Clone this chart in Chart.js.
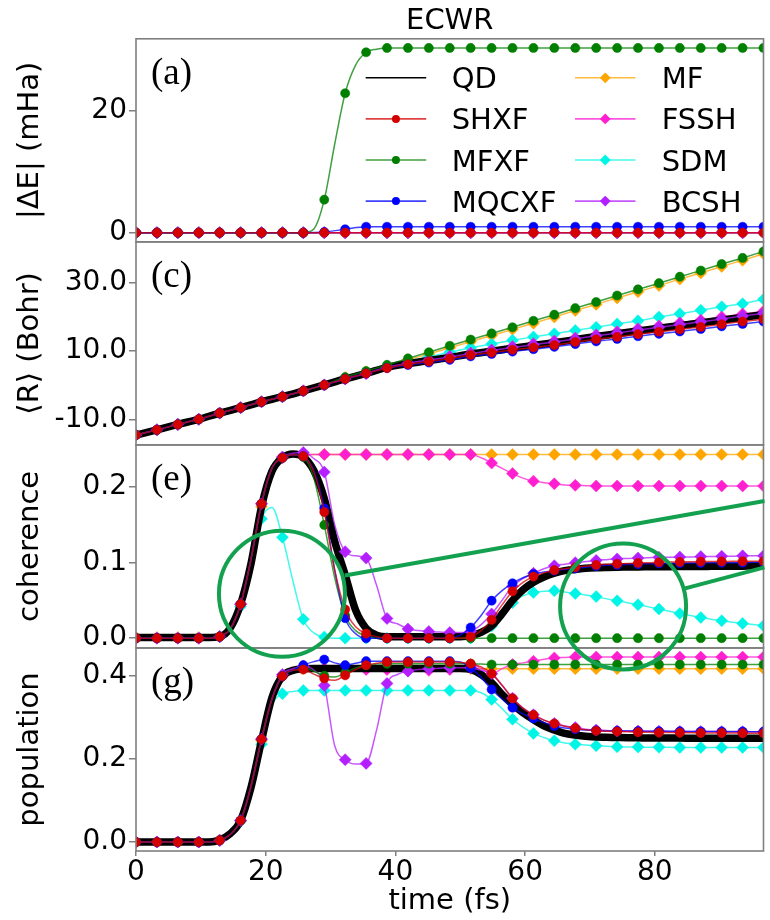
<!DOCTYPE html>
<html>
<head>
<meta charset="utf-8">
<title>ECWR</title>
<script src="https://cdn.jsdelivr.net/npm/chart.js@4.4.1/dist/chart.umd.min.js"></script>
<style>
  html, body { margin: 0; padding: 0; background: #fff; }
  canvas { display: block; }
</style>
</head>
<body>
<canvas id="chart" width="770" height="920"></canvas>
<script>
// time axis (fs): marker grid and the finer grid used for curvy panels
const tMarks = [0, 3.23, 6.45, 9.68, 12.9, 16.13, 19.35, 22.58, 25.8, 29.03, 32.25, 35.48, 38.7, 41.93, 45.15, 48.38,
  51.6, 54.83, 58.05, 61.28, 64.5, 67.73, 70.95, 74.18, 77.4, 80.63, 83.85, 87.08, 90.3, 93.53, 96.75];
const tFine = [0, 1.61, 3.23, 4.84, 6.45, 8.06, 9.68, 11.29, 12.9, 14.51, 16.13, 17.74, 19.35, 20.96, 22.58, 24.19,
  25.8, 27.41, 29.03, 30.64, 32.25, 33.86, 35.48, 37.09, 38.7, 40.31, 41.93, 43.54, 45.15, 46.76, 48.38, 49.99,
  51.6, 53.21, 54.83, 56.44, 58.05, 59.66, 61.28, 62.89, 64.5, 66.11, 67.73, 69.34, 70.95, 72.56, 74.18, 75.79,
  77.4, 79.01, 80.63, 82.24, 83.85, 85.46, 87.08, 88.69, 90.3, 91.91, 93.53, 95.14, 96.75];
const xTicks = [0, 20, 40, 60, 80];

// (a) |dE| in mHa
const dE_SHXF = [0,0,0,0,0,0,0,0,0,0, 0,0,0,0,0,0,0,0,0,0, 0,0,0,0,0,0,0,0,0,0, 0];
const dE_MFXF = [0,0,0,0,0,0,0,0,0,0, 0,0,0,0,0,0,0,0.6,5.4,14.5, 22.8,27.4,29.5,30.0,30.2,30.2,30.2,30.2,30.2,30.2,
  30.2,30.2,30.2,30.2,30.2,30.2,30.2,30.2,30.2,30.2, 30.2,30.2,30.2,30.2,30.2,30.2,30.2,30.2,30.2,30.2,
  30.2,30.2,30.2,30.2,30.2,30.2,30.2,30.2,30.2,30.2, 30.2];
const dE_MQCXF = [0,0,0,0,0,0,0,0,0,0.1, 0.56,0.97,0.97,0.97,0.97,0.97,0.97,0.97,0.97,0.97, 0.97,0.97,0.97,0.97,0.97,0.97,0.97,0.97,0.97,0.97, 0.97];
const dE_MF = [0,0,0,0,0,0,0,0,0,0, 0,0,0,0,0,0,0,0,0,0, 0,0,0,0,0,0,0,0,0,0, 0];
const dE_FSSH = [0,0,0,0,0,0,0,0,0,0, 0,0,0,0,0,0,0,0,0,0, 0,0,0,0,0,0,0,0,0,0, 0];
const dE_SDM = [0,0,0,0,0,0,0,0,0,0, 0,0,0,0,0,0,0,0,0,0, 0,0,0,0,0,0,0,0,0,0, 0];
const dE_BCSH = [0,0,0,0,0,0,0,0,0,0, 0,0,0,0,0,0,0,0,0,0, 0,0,0,0,0,0,0,0,0,0, 0];

// (c) <R> in Bohr
const R_QD = [-14.6,-13.1,-11.5,-10.0,-8.2,-6.6,-4.9,-3.4,-1.7,0.05, 1.8,3.4,5.2,6.3,7.2,8.1,9.1,9.9,10.8,11.6,
  12.4,13.3,14.2,15.0,15.85,16.6,17.4,18.2,19.0,19.8, 20.6];
const R_SHXF = [-14.6,-13.1,-11.5,-10.0,-8.2,-6.6,-4.9,-3.4,-1.7,0.05, 1.8,3.4,5.0,6.1,6.9,7.75,8.8,9.5,10.3,11.0,
  11.7,12.6,13.4,14.1,14.9,15.6,16.3,17.0,17.8,18.6, 19.3];
const R_MFXF = [-14.6,-13.1,-11.5,-10.0,-8.2,-6.6,-4.9,-3.4,-1.7,0.05, 2.3,4.1,5.9,7.8,9.6,11.5,13.3,15.1,16.9,18.8,
  20.6,22.5,24.3,26.2,28.0,29.8,31.7,33.5,35.4,37.2, 39.1];
const R_MQCXF = [-14.6,-13.1,-11.5,-10.0,-8.2,-6.6,-4.9,-3.4,-1.7,0.05, 1.8,3.4,5.0,5.9,6.6,7.4,8.4,9.1,9.8,10.5,
  11.2,12.0,12.8,13.5,14.3,15.0,15.7,16.4,17.2,17.9, 18.6];
const R_MF = [-14.6,-13.1,-11.5,-10.0,-8.2,-6.6,-4.9,-3.4,-1.7,0.05, 2.2,3.9,5.6,7.4,9.1,10.9,12.7,14.5,16.3,18.1,
  19.9,21.8,23.6,25.5,27.3,29.1,31.0,32.8,34.7,36.5, 38.4];
const R_FSSH = [-14.6,-13.1,-11.5,-10.0,-8.2,-6.6,-4.9,-3.4,-1.7,0.05, 1.8,3.4,5.3,6.5,7.4,8.4,9.4,10.3,11.3,12.1,
  12.9,13.8,14.7,15.6,16.5,17.3,18.2,19.0,19.9,20.8, 21.6];
const R_SDM = [-14.6,-13.1,-11.5,-10.0,-8.2,-6.6,-4.9,-3.4,-1.7,0.05, 1.9,3.5,5.6,7.0,8.3,9.6,10.9,12.0,13.1,14.1,
  15.0,16.0,16.9,17.9,18.8,19.9,20.9,21.9,22.9,23.8, 25.1];
const R_BCSH = [-14.6,-13.1,-11.5,-10.0,-8.2,-6.6,-4.9,-3.4,-1.7,0.05, 1.8,3.4,5.2,6.4,7.3,8.2,9.2,10.1,11.0,11.8,
  12.6,13.5,14.4,15.2,16.1,16.9,17.7,18.5,19.3,20.2, 21.0];

// (e) coherence
const coh_QD = [0.001,0.001,0.001,0.001,0.001,0.001,0.001,0.001,0.002,0.013,
  0.045,0.099,0.174,0.221,0.239,0.244,0.240,0.222,0.185,0.128,
  0.084,0.037,0.013,0.004,0.002,0.002,0.002,0.002,0.002,0.002,
  0.002,0.002,0.003,0.0075,0.016,0.032,0.050,0.064,0.074,0.081,
  0.086,0.0895,0.091,0.0925,0.0933,0.0937,0.094,0.0942,0.0944,0.0945,
  0.0946,0.0947,0.0948,0.0949,0.095,0.0951,0.0952,0.0953,0.0954,0.0955, 0.0956];
const coh_SHXF = [0,0,0,0,0,0,0,0,0.002,0.012,
  0.045,0.105,0.178,0.225,0.239,0.243,0.241,0.220,0.167,0.090,
  0.038,0.015,0.006,0.002,0,0,0,0,0,0,
  0,0,0.0018,0.010,0.0242,0.044,0.062,0.074,0.0815,0.0865,
  0.090,0.092,0.0938,0.0955,0.097,0.098,0.0985,0.099,0.0997,0.100,
  0.1005,0.101,0.101,0.1012,0.1014,0.1015,0.1016,0.1017,0.1018,0.1019, 0.102];
const coh_MFXF = [0,0,0,0,0,0,0,0,0.002,0.012,
  0.045,0.105,0.178,0.225,0.239,0.243,0.240,0.212,0.150,0.080,
  0.030,0.010,0.003,0,0,0,0,0,0,0,
  0,0,0,0,0,0,0,0,0,0,
  0,0,0,0,0,0,0,0,0,0,
  0,0,0,0,0,0,0,0,0,0, 0];
const coh_MQCXF = [0,0,0,0,0,0,0,0,0.002,0.012,
  0.045,0.105,0.178,0.225,0.239,0.243,0.241,0.222,0.172,0.090,
  0.0265,0.006,0,0,0,0,0,0,0,0,
  0,0.004,0.0141,0.030,0.0496,0.063,0.0726,0.080,0.085,0.0875,
  0.0894,0.091,0.0925,0.094,0.0955,0.0965,0.097,0.0975,0.098,0.0985,
  0.099,0.099,0.0993,0.0995,0.0997,0.0998,0.1,0.1,0.1,0.1005, 0.1005];
const coh_MF = [0.001,0.001,0.001,0.001,0.001,0.001,0.001,0.001,0.002,0.013,
  0.045,0.099,0.174,0.221,0.239,0.2434,0.2434,0.2434,0.2434,0.2434,
  0.2434,0.2434,0.2434,0.2434,0.2434,0.2434,0.2434,0.2434,0.2434,0.2434,
  0.2434,0.2434,0.2434,0.2434,0.2434,0.2434,0.2434,0.2434,0.2434,0.2434,
  0.2434,0.2434,0.2434,0.2434,0.2434,0.2434,0.2434,0.2434,0.2434,0.2434,
  0.2434,0.2434,0.2434,0.2434,0.2434,0.2434,0.2434,0.2434,0.2434,0.2434, 0.2434];
const coh_FSSH = [0,0,0,0,0,0,0,0,0.002,0.012,
  0.045,0.105,0.178,0.225,0.239,0.2434,0.2434,0.2434,0.2434,0.2434,
  0.2434,0.2434,0.2434,0.2434,0.2434,0.2434,0.2434,0.2434,0.2434,0.2434,
  0.2434,0.2434,0.2434,0.239,0.232,0.225,0.218,0.212,0.208,0.206,
  0.2045,0.203,0.2024,0.202,0.2016,0.2016,0.2016,0.2016,0.2016,0.2016,
  0.2016,0.2016,0.2016,0.2016,0.2016,0.2016,0.2016,0.2016,0.2016,0.2016, 0.2016];
const coh_SDM = [0,0,0,0,0,0,0,0,0.002,0.012,
  0.042,0.100,0.158,0.173,0.1336,0.076,0.025,0.007,0.0016,0,
  0,0,0,0,0,0,0,0,0,0,
  0,0,0,0.005,0.016,0.032,0.047,0.056,0.0605,0.062,
  0.0628,0.061,0.059,0.057,0.055,0.052,0.0495,0.047,0.0443,0.0414,
  0.0385,0.0356,0.0327,0.030,0.0274,0.025,0.023,0.021,0.0195,0.018, 0.0164];
const coh_BCSH = [0,0,0,0,0,0,0,0,0.002,0.012,
  0.045,0.105,0.178,0.225,0.240,0.245,0.246,0.238,0.220,0.150,
  0.1146,0.109,0.106,0.070,0.026,0.019,0.0121,0.010,0.0087,0.008,
  0.0074,0.0074,0.009,0.018,0.032,0.050,0.0686,0.079,0.086,0.092,
  0.096,0.098,0.100,0.1015,0.103,0.104,0.105,0.1055,0.106,0.1065,
  0.107,0.107,0.1075,0.1075,0.108,0.108,0.1085,0.1085,0.109,0.109, 0.109];

// (g) population
const pop_QD = [0,0,0,0,0,0,0,0,0.005,0.020,
  0.052,0.132,0.244,0.348,0.400,0.414,0.418,0.4185,0.4185,0.4185,
  0.4185,0.4185,0.4185,0.4185,0.4185,0.4185,0.4185,0.4185,0.4185,0.4185,
  0.4185,0.4185,0.416,0.404,0.384,0.356,0.332,0.312,0.295,0.280,
  0.270,0.262,0.258,0.255,0.253,0.2525,0.252,0.2515,0.2513,0.251,
  0.251,0.2508,0.2506,0.2505,0.2504,0.2503,0.2502,0.2501,0.25,0.25, 0.25];
const pop_SHXF = [0,0,0,0,0,0,0,0,0.004,0.018,
  0.052,0.135,0.248,0.345,0.400,0.414,0.416,0.405,0.3945,0.390,
  0.402,0.416,0.4265,0.431,0.434,0.434,0.434,0.434,0.434,0.434,
  0.434,0.433,0.430,0.422,0.406,0.378,0.3465,0.323,0.3065,0.294,
  0.2857,0.279,0.2745,0.271,0.2681,0.267,0.2665,0.266,0.2648,0.2645,
  0.264,0.264,0.2638,0.2635,0.2632,0.263,0.263,0.2628,0.2626,0.2625, 0.2624];
const pop_MFXF = [0,0,0,0,0,0,0,0,0.004,0.018,
  0.052,0.135,0.248,0.345,0.400,0.414,0.420,0.412,0.401,0.398,
  0.408,0.420,0.4265,0.429,0.430,0.430,0.430,0.430,0.430,0.430,
  0.430,0.430,0.430,0.429,0.428,0.428,0.428,0.428,0.428,0.428,
  0.428,0.428,0.428,0.428,0.428,0.428,0.428,0.428,0.428,0.428,
  0.428,0.428,0.428,0.428,0.428,0.428,0.428,0.428,0.428,0.428, 0.428];
const pop_MQCXF = [0,0,0,0,0,0,0,0,0.004,0.018,
  0.052,0.135,0.248,0.345,0.400,0.414,0.4265,0.435,0.440,0.432,
  0.4265,0.431,0.436,0.436,0.436,0.436,0.436,0.436,0.436,0.436,
  0.436,0.434,0.420,0.397,0.368,0.345,0.324,0.309,0.298,0.288,
  0.280,0.275,0.272,0.270,0.269,0.268,0.268,0.2675,0.2675,0.267,
  0.267,0.267,0.2668,0.2667,0.2666,0.2665,0.2665,0.2664,0.2663,0.2662, 0.2662];
const pop_MF = [0,0,0,0,0,0,0,0,0.005,0.020,
  0.052,0.132,0.244,0.348,0.400,0.414,0.418,0.418,0.418,0.418,
  0.418,0.418,0.418,0.418,0.418,0.418,0.418,0.418,0.418,0.418,
  0.418,0.418,0.418,0.418,0.418,0.418,0.418,0.418,0.418,0.418,
  0.418,0.418,0.418,0.418,0.418,0.418,0.418,0.418,0.418,0.418,
  0.418,0.418,0.418,0.418,0.418,0.418,0.418,0.418,0.418,0.418, 0.418];
const pop_FSSH = [0,0,0,0,0,0,0,0,0.004,0.018,
  0.052,0.135,0.248,0.345,0.400,0.414,0.420,0.419,0.418,0.418,
  0.418,0.417,0.416,0.416,0.416,0.416,0.414,0.414,0.414,0.415,
  0.416,0.420,0.428,0.418,0.406,0.418,0.428,0.432,0.436,0.441,
  0.444,0.445,0.446,0.446,0.446,0.446,0.446,0.446,0.446,0.446,
  0.446,0.446,0.446,0.446,0.446,0.446,0.446,0.446,0.446,0.446, 0.446];
const pop_SDM = [0,0,0,0,0,0,0,0,0.004,0.018,
  0.050,0.125,0.236,0.330,0.3576,0.363,0.3655,0.3657,0.3657,0.3657,
  0.3657,0.3657,0.3657,0.3657,0.3657,0.3657,0.3657,0.3657,0.3657,0.3657,
  0.3657,0.3657,0.3657,0.360,0.344,0.322,0.296,0.277,0.262,0.252,
  0.244,0.239,0.236,0.234,0.232,0.231,0.2295,0.229,0.229,0.2285,
  0.2285,0.2285,0.228,0.228,0.228,0.228,0.228,0.228,0.228,0.228, 0.228];
const pop_BCSH = [0,0,0,0,0,0,0,0,0.004,0.018,
  0.052,0.135,0.248,0.345,0.404,0.418,0.424,0.415,0.3777,0.232,
  0.1985,0.188,0.1896,0.270,0.3825,0.404,0.412,0.416,0.418,0.419,
  0.420,0.420,0.420,0.414,0.406,0.378,0.347,0.323,0.307,0.294,
  0.286,0.280,0.276,0.272,0.270,0.269,0.268,0.268,0.2675,0.267,
  0.267,0.2668,0.2666,0.2665,0.2664,0.2663,0.2662,0.2661,0.266,0.266, 0.266];

// look of each method; order: lower number is drawn on top
const style = {
  QD:    { color: '#000000', marker: null,      order: 5 },
  SHXF:  { color: '#d40000', marker: 'circle',  order: 1 },
  MFXF:  { color: '#007f00', marker: 'circle',  order: 3 },
  MQCXF: { color: '#0000ff', marker: 'circle',  order: 2 },
  MF:    { color: '#ffa500', marker: 'rectRot', order: 8 },
  FSSH:  { color: '#ff1fd0', marker: 'rectRot', order: 6 },
  SDM:   { color: '#00f5e6', marker: 'rectRot', order: 7 },
  BCSH:  { color: '#b31fff', marker: 'rectRot', order: 4 }
};
const legendCols = [['QD', 'SHXF', 'MFXF', 'MQCXF'], ['MF', 'FSSH', 'SDM', 'BCSH']];
const panelTags = [['ya', '(a)'], ['yc', '(c)'], ['ye', '(e)'], ['yg', '(g)']];
// green call-outs in panel (e): centres in data units, radius in px
const callCircles = [[22.5, 0.0588], [75.1, 0.042]];
const callLines = [[32.2, 0.0829, 96.9, 0.1817], [84.67, 0.0659, 96.9, 0.0938]];
const GREEN = '#13a150';

function fade(hex, a) {
  const n = parseInt(hex.slice(1), 16);
  return 'rgba(' + (n >> 16) + ',' + ((n >> 8) & 255) + ',' + (n & 255) + ',' + a + ')';
}

function makeSet(method, axis, values) {
  const fine = values.length === tFine.length;
  if (!fine && values.length !== tMarks.length) {
    throw new Error(method + '/' + axis + ' has ' + values.length + ' values');
  }
  const times = fine ? tFine : tMarks;
  const every = fine ? 2 : 1;
  const st = style[method];
  const isQD = method === 'QD';
  const r = st.marker === 'circle' ? 4.6 : 6;
  return {
    label: method,
    yAxisID: axis,
    order: st.order,
    data: values.map((v, i) => ({ x: times[i], y: v })),
    borderColor: isQD ? '#000' : fade(st.color, 0.75),
    borderWidth: isQD ? 7.5 : 1.5,
    cubicInterpolationMode: 'monotone',
    pointStyle: st.marker || 'circle',
    pointRadius: isQD ? 0 : (c => c.dataIndex % every === 0 ? r : 0),
    pointHoverRadius: 0,
    pointBackgroundColor: st.color,
    pointBorderColor: st.color,
    pointBorderWidth: 0.5
  };
}

const datasets = [
  makeSet('SHXF', 'ya', dE_SHXF), makeSet('MFXF', 'ya', dE_MFXF), makeSet('MQCXF', 'ya', dE_MQCXF),
  makeSet('MF', 'ya', dE_MF), makeSet('FSSH', 'ya', dE_FSSH), makeSet('SDM', 'ya', dE_SDM), makeSet('BCSH', 'ya', dE_BCSH),

  makeSet('QD', 'yc', R_QD), makeSet('SHXF', 'yc', R_SHXF), makeSet('MFXF', 'yc', R_MFXF), makeSet('MQCXF', 'yc', R_MQCXF),
  makeSet('MF', 'yc', R_MF), makeSet('FSSH', 'yc', R_FSSH), makeSet('SDM', 'yc', R_SDM), makeSet('BCSH', 'yc', R_BCSH),

  makeSet('QD', 'ye', coh_QD), makeSet('SHXF', 'ye', coh_SHXF), makeSet('MFXF', 'ye', coh_MFXF), makeSet('MQCXF', 'ye', coh_MQCXF),
  makeSet('MF', 'ye', coh_MF), makeSet('FSSH', 'ye', coh_FSSH), makeSet('SDM', 'ye', coh_SDM), makeSet('BCSH', 'ye', coh_BCSH),

  makeSet('QD', 'yg', pop_QD), makeSet('SHXF', 'yg', pop_SHXF), makeSet('MFXF', 'yg', pop_MFXF), makeSet('MQCXF', 'yg', pop_MQCXF),
  makeSet('MF', 'yg', pop_MF), makeSet('FSSH', 'yg', pop_FSSH), makeSet('SDM', 'yg', pop_SDM), makeSet('BCSH', 'yg', pop_BCSH)
];

function yAxis(weight, min, max, tickVals, digits, title) {
  return {
    type: 'linear', position: 'left', stack: 'panels', stackWeight: 1, weight: weight,
    min: min, max: max,
    afterBuildTicks: s => { s.ticks = tickVals.map(v => ({ value: v })); },
    afterFit: s => { s.width = 136; },
    ticks: { font: { size: 28 }, color: '#000', padding: 2, callback: v => v.toFixed(digits) },
    grid: { drawOnChartArea: false, tickLength: 7, color: '#7f7f7f', lineWidth: 1.5 },
    border: { display: false },
    title: { display: true, text: title, font: { size: 29 }, color: '#000', padding: { top: 13, bottom: 0 } }
  };
}

function drawMarker(ctx, shape, x, y, r) {
  ctx.beginPath();
  if (shape === 'circle') {
    ctx.arc(x, y, r, 0, Math.PI * 2);
  } else {
    ctx.moveTo(x - r, y); ctx.lineTo(x, y - r); ctx.lineTo(x + r, y); ctx.lineTo(x, y + r);
    ctx.closePath();
  }
  ctx.fill();
}

const decorations = {
  id: 'decorations',
  afterDatasetsDraw(chart) {
    const ctx = chart.ctx;
    const area = chart.chartArea;
    ctx.save();

    // panel frames
    ctx.strokeStyle = '#7f7f7f';
    ctx.lineWidth = 1.6;
    panelTags.forEach(([id]) => {
      const s = chart.scales[id];
      ctx.strokeRect(area.left, s.top, area.right - area.left, s.bottom - s.top);
    });

    // panel letters
    ctx.fillStyle = '#000';
    ctx.font = '37px "Liberation Serif", serif';
    ctx.textBaseline = 'alphabetic';
    ctx.textAlign = 'left';
    panelTags.forEach(([id, tag]) => {
      ctx.fillText(tag, area.left + 15, chart.scales[id].top + 45);
    });

    // legend inside panel (a)
    const top = chart.scales.ya.top;
    ctx.font = '29px "DejaVu Sans", sans-serif';
    legendCols.forEach((col, ci) => {
      const x0 = area.left + (ci ? 439 : 229.7);
      const x1 = x0 + 60.5;
      const tx = area.left + (ci ? 525.7 : 315.7);
      col.forEach((m, ri) => {
        const y = top + 39 + ri * 41.1;
        const st = style[m];
        ctx.strokeStyle = m === 'QD' ? '#000' : fade(st.color, 0.75);
        ctx.lineWidth = 1.6;
        ctx.beginPath(); ctx.moveTo(x0, y); ctx.lineTo(x1, y); ctx.stroke();
        if (st.marker) {
          ctx.fillStyle = st.color;
          drawMarker(ctx, st.marker, (x0 + x1) / 2, y, st.marker === 'circle' ? 4 : 5.4);
        }
        ctx.fillStyle = '#000';
        ctx.fillText(m, tx, y + 10.5);
      });
    });

    // green call-outs in panel (e)
    const xs = chart.scales.x, ye = chart.scales.ye;
    ctx.strokeStyle = GREEN;
    ctx.lineWidth = 4;
    callCircles.forEach(([t, v]) => {
      ctx.beginPath();
      ctx.arc(xs.getPixelForValue(t), ye.getPixelForValue(v), 63, 0, Math.PI * 2);
      ctx.stroke();
    });
    callLines.forEach(([t0, v0, t1, v1]) => {
      ctx.beginPath();
      ctx.moveTo(xs.getPixelForValue(t0), ye.getPixelForValue(v0));
      ctx.lineTo(xs.getPixelForValue(t1), ye.getPixelForValue(v1));
      ctx.stroke();
    });
    ctx.restore();
  }
};

Chart.defaults.font.family = "'DejaVu Sans', sans-serif";

new Chart(document.getElementById('chart'), {
  type: 'line',
  data: { datasets: datasets },
  options: {
    responsive: false,
    devicePixelRatio: 1,
    animation: false,
    events: [],
    layout: { padding: { left: 0, right: 1, top: 0, bottom: 0 } },
    plugins: {
      legend: { display: false },
      tooltip: { enabled: false },
      title: {
        display: true, text: 'ECWR', fullSize: false, color: '#000',
        font: { size: 29, weight: 'normal' }, padding: { top: 4, bottom: 0 }
      }
    },
    scales: {
      x: {
        type: 'linear', min: 0, max: 96.75,
        afterBuildTicks: s => { s.ticks = xTicks.map(v => ({ value: v })); },
        afterFit: s => { s.height = 69; },
        ticks: { font: { size: 28 }, color: '#000', padding: 0, maxRotation: 0, autoSkip: false },
        grid: { drawOnChartArea: false, tickLength: 5, color: '#7f7f7f', lineWidth: 1.5 },
        border: { display: false },
        title: { display: true, text: 'time (fs)', font: { size: 29 }, color: '#000', padding: { top: 0, bottom: 1 } }
      },
      ya: yAxis(4, -1.5, 31.7, [0, 20], 0, '|ΔE| (mHa)'),
      yc: yAxis(3, -17.5, 41.9, [-10, 10, 30], 1, '⟨R⟩ (Bohr)'),
      ye: yAxis(2, -0.013, 0.256, [0, 0.1, 0.2], 1, 'coherence'),
      yg: yAxis(1, -0.0216, 0.468, [0, 0.2, 0.4], 1, 'population')
    }
  },
  plugins: [decorations]
});
</script>
</body>
</html>
